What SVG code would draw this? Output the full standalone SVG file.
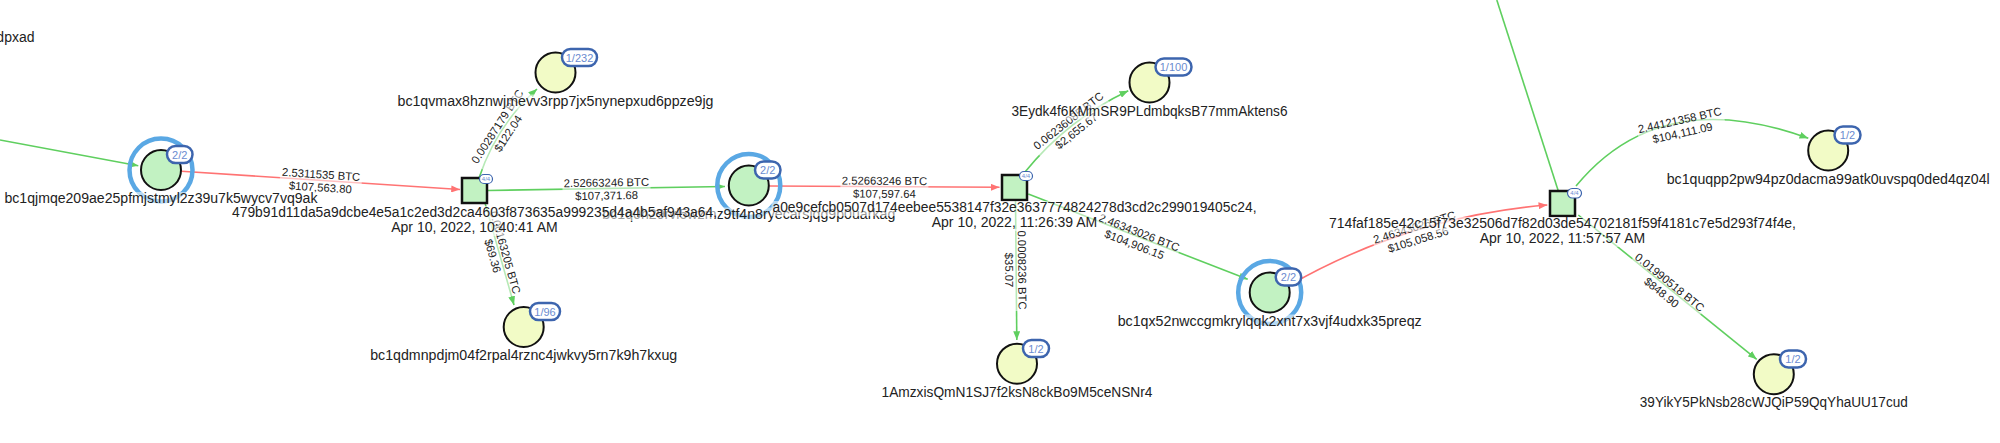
<svg xmlns="http://www.w3.org/2000/svg" width="2000" height="443" viewBox="0 0 2000 443">
<defs>
<style>
text{font-family:"Liberation Sans",Arial,sans-serif}
.lbl{font-size:14px;fill:#222;text-anchor:middle}
.el{font-size:11.3px;fill:#222;text-anchor:middle}
.bg{fill:#fff;fill-opacity:0.55}
.eg{stroke:#5fcf5f;stroke-width:1.6;fill:none}
.er{stroke:#ff7373;stroke-width:1.6;fill:none}
.ag{fill:#c2f2c2;stroke:#111;stroke-width:2}
.ay{fill:#f2fbc6;stroke:#111;stroke-width:2}
.ring{fill:none;stroke:#5aa8e4;stroke-width:4.5}
.badge{fill:#fff;stroke:#3d65ae;stroke-width:2.5}
.btxt{font-size:11px;fill:#6a8bd0;text-anchor:middle}
.tx{fill:#c2f2c2;stroke:#111;stroke-width:2.5}
.tbadge{fill:#fff;stroke:#3d65ae;stroke-width:1.2}
.tbtxt{font-size:6px;fill:#6a8bd0;text-anchor:middle}
</style>
<marker id="mg" viewBox="0 0 10 8" refX="10" refY="4" markerWidth="9" markerHeight="7" markerUnits="userSpaceOnUse" orient="auto"><path d="M0,0 L10,4 L0,8 z" fill="#5fcf5f"/></marker>
<marker id="mr" viewBox="0 0 10 8" refX="10" refY="4" markerWidth="9" markerHeight="7" markerUnits="userSpaceOnUse" orient="auto"><path d="M0,0 L10,4 L0,8 z" fill="#ff7373"/></marker>
</defs>
<rect width="2000" height="443" fill="#fff"/>

<g id="edges">
<line class="eg" x1="0" y1="140" x2="138.3" y2="165.7" marker-end="url(#mg)"/>
<line class="er" x1="181.5" y1="171.3" x2="460" y2="189.5" marker-end="url(#mr)"/>
<path class="eg" d="M479,178 Q496.3,125.9 537,89" marker-end="url(#mg)"/>
<line class="eg" x1="485" y1="203" x2="514" y2="305" marker-end="url(#mg)"/>
<line class="eg" x1="488" y1="190.5" x2="725" y2="186.5" marker-end="url(#mg)"/>
<line class="er" x1="769.3" y1="186" x2="999.5" y2="187.3" marker-end="url(#mr)"/>
<path class="eg" d="M1025,172 Q1067.4,119.6 1128.3,90.7" marker-end="url(#mg)"/>
<line class="eg" x1="1015.5" y1="200" x2="1016.8" y2="340" marker-end="url(#mg)"/>
<line class="eg" x1="1028.3" y1="194" x2="1247.7" y2="279.3" marker-end="url(#mg)"/>
<path class="er" d="M1289,285.5 Q1409.3,216.6 1547.3,205" marker-end="url(#mr)"/>
<line class="eg" x1="1496.8" y1="0" x2="1558.3" y2="191"/>
<path class="eg" d="M1576,186 Q1660,84 1808.3,138.3" marker-end="url(#mg)"/>
<line class="eg" x1="1578.3" y1="215" x2="1756.7" y2="359.3" marker-end="url(#mg)"/>

<g transform="translate(320.8,180.4) rotate(3.74)"><rect class="bg" x="-41" y="-11" width="82" height="25"/><text class="el" y="-2">2.5311535 BTC</text><text class="el" y="11">$107,563.80</text></g>
<g transform="translate(502.2,129.7) rotate(-56.9)"><rect class="bg" x="-44" y="-11" width="88" height="25"/><text class="el" y="-2">0.00287179 BTC</text><text class="el" y="11">$122.04</text></g>
<g transform="translate(499.5,254) rotate(74.1)"><rect class="bg" x="-44" y="-11" width="88" height="25"/><text class="el" y="-2">0.00163205 BTC</text><text class="el" y="11">$69.36</text></g>
<g transform="translate(606.5,188.5) rotate(-0.97)"><rect class="bg" x="-44" y="-11" width="88" height="25"/><text class="el" y="-2">2.52663246 BTC</text><text class="el" y="11">$107,371.68</text></g>
<g transform="translate(884.4,186.7) rotate(0.32)"><rect class="bg" x="-44" y="-11" width="88" height="25"/><text class="el" y="-2">2.52663246 BTC</text><text class="el" y="11">$107,597.64</text></g>
<g transform="translate(1072,125.5) rotate(-38.2)"><rect class="bg" x="-44" y="-11" width="88" height="25"/><text class="el" y="-2">0.06236085 BTC</text><text class="el" y="11">$2,655.67</text></g>
<g transform="translate(1016.2,270) rotate(89.5)"><rect class="bg" x="-41" y="-11" width="82" height="25"/><text class="el" y="-2">0.0008236 BTC</text><text class="el" y="11">$35.07</text></g>
<g transform="translate(1137,238) rotate(21.25)"><rect class="bg" x="-44" y="-11" width="88" height="25"/><text class="el" y="-2">2.46343026 BTC</text><text class="el" y="11">$104,906.15</text></g>
<g transform="translate(1416,233) rotate(-17.3)"><rect class="bg" x="-44" y="-11" width="88" height="25"/><text class="el" y="-2">2.46343026 BTC</text><text class="el" y="11">$105,058.56</text></g>
<g transform="translate(1681,126) rotate(-12.5)"><rect class="bg" x="-44" y="-11" width="88" height="25"/><text class="el" y="-2">2.44121358 BTC</text><text class="el" y="11">$104,111.09</text></g>
<g transform="translate(1666,287) rotate(39)"><rect class="bg" x="-44" y="-11" width="88" height="25"/><text class="el" y="-2">0.01990518 BTC</text><text class="el" y="11">$848.90</text></g>
</g>

<g id="n-offscreen"><text class="lbl" x="34.5" y="42" style="text-anchor:end">dpxad</text></g>

<g id="n1">
<circle class="ring" cx="161" cy="170" r="31.5"/>
<circle class="ag" cx="161" cy="170" r="20"/>
<rect class="badge" x="167" y="146" width="25.5" height="17" rx="8.5"/><text class="btxt" x="179.75" y="158.5">2/2</text>
<rect class="bg" x="4" y="192" width="315" height="15"/>
<text class="lbl" x="161" y="203" textLength="313" lengthAdjust="spacingAndGlyphs">bc1qjmqe209ae25pfmjstmyl2z39u7k5wycv7vq9ak</text>
</g>

<g id="n3">
<circle class="ay" cx="555.5" cy="72.5" r="20"/>
<rect class="badge" x="562" y="49" width="35" height="17" rx="8.5"/><text class="btxt" x="579.5" y="61.5">1/232</text>
<rect class="bg" x="396.5" y="94.5" width="318" height="15"/>
<text class="lbl" x="555.5" y="105.5" textLength="316" lengthAdjust="spacingAndGlyphs">bc1qvmax8hznwjmevv3rpp7jx5nynepxud6ppze9jg</text>
</g>

<g id="n4">
<circle class="ay" cx="523.7" cy="327" r="20"/>
<rect class="badge" x="530" y="303" width="30" height="17" rx="8.5"/><text class="btxt" x="545" y="315.5">1/96</text>
<rect class="bg" x="369.2" y="349" width="309" height="15"/>
<text class="lbl" x="523.7" y="360" textLength="307" lengthAdjust="spacingAndGlyphs">bc1qdmnpdjm04f2rpal4rznc4jwkvy5rn7k9h7kxug</text>
</g>

<g id="n5">
<circle class="ring" cx="748.8" cy="185.5" r="31.5"/>
<circle class="ag" cx="748.8" cy="185.5" r="20"/>
<rect class="badge" x="755" y="161.5" width="25.5" height="17" rx="8.5"/><text class="btxt" x="767.75" y="174">2/2</text>
<rect class="bg" x="601.3" y="207.5" width="295" height="15"/>
<text class="lbl" x="748.8" y="218.5" textLength="293" lengthAdjust="spacingAndGlyphs">bc1q0h29rvl5wzmz9tf4n8ryecarsjqg9p0uarkag</text>
</g>

<g id="n7">
<circle class="ay" cx="1149.5" cy="82.5" r="20"/>
<rect class="badge" x="1155.5" y="58.5" width="36" height="17" rx="8.5"/><text class="btxt" x="1173.5" y="71">1/100</text>
<rect class="bg" x="1010.5" y="104.5" width="278" height="15"/>
<text class="lbl" x="1149.5" y="115.5" textLength="276" lengthAdjust="spacingAndGlyphs">3Eydk4f6KMmSR9PLdmbqksB77mmAktens6</text>
</g>

<g id="n8">
<circle class="ay" cx="1017" cy="363.7" r="20"/>
<rect class="badge" x="1023" y="340" width="26" height="17" rx="8.5"/><text class="btxt" x="1036" y="352.5">1/2</text>
<rect class="bg" x="880.5" y="385.7" width="273" height="15"/>
<text class="lbl" x="1017" y="396.7" textLength="271" lengthAdjust="spacingAndGlyphs">1AmzxisQmN1SJ7f2ksN8ckBo9M5ceNSNr4</text>
</g>

<g id="n9">
<circle class="ring" cx="1269.7" cy="292.5" r="31.5"/>
<circle class="ag" cx="1269.7" cy="292.5" r="20"/>
<rect class="badge" x="1275.7" y="268.5" width="25.5" height="17" rx="8.5"/><text class="btxt" x="1288.45" y="281">2/2</text>
<rect class="bg" x="1116.7" y="314.5" width="306" height="15"/>
<text class="lbl" x="1269.7" y="325.5" textLength="304" lengthAdjust="spacingAndGlyphs">bc1qx52nwccgmkrylqqk2xnt7x3vjf4udxk35preqz</text>
</g>

<g id="n11">
<circle class="ay" cx="1828.2" cy="150.5" r="20"/>
<rect class="badge" x="1834.5" y="126.5" width="26" height="17" rx="8.5"/><text class="btxt" x="1847.5" y="139">1/2</text>
<rect class="bg" x="1665.7" y="172.5" width="325" height="15"/>
<text class="lbl" x="1828.2" y="183.5" textLength="323" lengthAdjust="spacingAndGlyphs">bc1quqpp2pw94pz0dacma99atk0uvspq0ded4qz04l</text>
</g>

<g id="n12">
<circle class="ay" cx="1773.8" cy="374.2" r="20"/>
<rect class="badge" x="1780" y="350.5" width="26" height="17" rx="8.5"/><text class="btxt" x="1793" y="363">1/2</text>
<rect class="bg" x="1638.8" y="396" width="270" height="15"/>
<text class="lbl" x="1773.8" y="407" textLength="268" lengthAdjust="spacingAndGlyphs">39YikY5PkNsb28cWJQiP59QqYhaUU17cud</text>
</g>

<g id="tx1">
<rect class="tx" x="462" y="178" width="25" height="25"/>
<rect class="tbadge" x="479.5" y="174.5" width="13" height="9" rx="4.5"/><text class="tbtxt" x="486" y="181.2">4/4</text>
<rect class="bg" x="231" y="206" width="487" height="15"/>
<rect class="bg" x="390" y="221" width="169" height="15"/>
<text class="lbl" x="474.5" y="217" textLength="485" lengthAdjust="spacingAndGlyphs">479b91d11da5a9dcbe4e5a1c2ed3d2ca4603f873635a999235d4a4b5af943a64,</text>
<text class="lbl" x="474.5" y="232">Apr 10, 2022, 10:40:41 AM</text>
</g>

<g id="tx2">
<rect class="tx" x="1002" y="175" width="25" height="25"/>
<rect class="tbadge" x="1019.5" y="171.5" width="13" height="9" rx="4.5"/><text class="tbtxt" x="1026" y="178.2">4/4</text>
<rect class="bg" x="771.5" y="201" width="486" height="15"/>
<rect class="bg" x="930" y="216" width="169" height="15"/>
<text class="lbl" x="1014.5" y="212" textLength="484" lengthAdjust="spacingAndGlyphs">a0e9cefcb0507d174eebee5538147f32e3637774824278d3cd2c299019405c24,</text>
<text class="lbl" x="1014.5" y="227">Apr 10, 2022, 11:26:39 AM</text>
</g>

<g id="tx3">
<rect class="tx" x="1550" y="191" width="25" height="25"/>
<rect class="tbadge" x="1567.5" y="188.5" width="14" height="9.5" rx="4.75"/><text class="tbtxt" x="1574.5" y="195.3">4/4</text>
<rect class="bg" x="1328" y="217" width="469" height="15"/>
<rect class="bg" x="1478" y="232" width="169" height="15"/>
<text class="lbl" x="1562.5" y="228" textLength="467" lengthAdjust="spacingAndGlyphs">714faf185e42c15f73e32506d7f82d03de54702181f59f4181c7e5d293f74f4e,</text>
<text class="lbl" x="1562.5" y="243">Apr 10, 2022, 11:57:57 AM</text>
</g>
</svg>
